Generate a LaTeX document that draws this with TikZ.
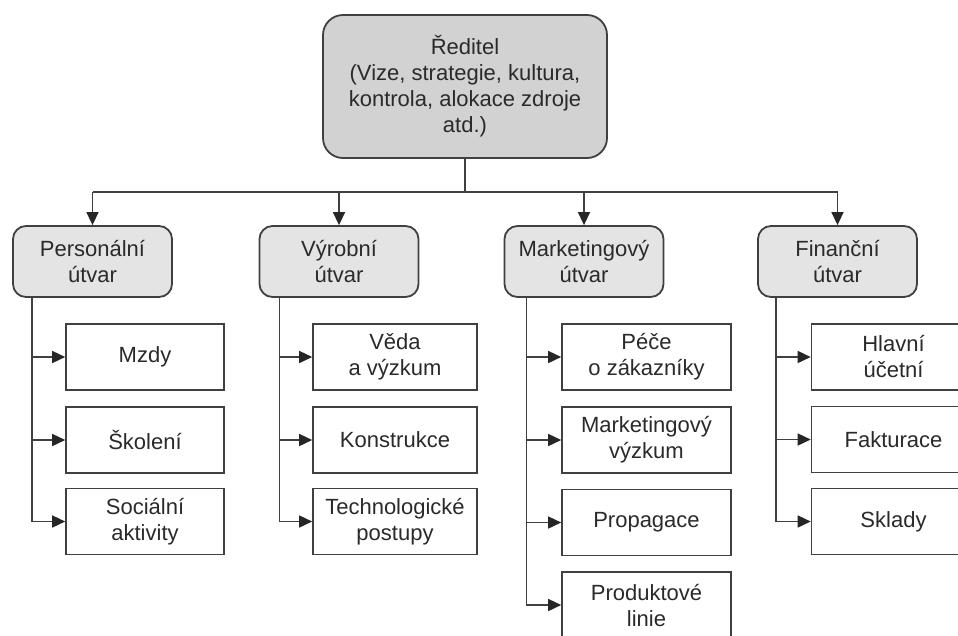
\documentclass[tikz,border=0pt]{standalone}
\usepackage{fontspec}
\setmainfont{Liberation Sans}
\usetikzlibrary{arrows.meta,positioning}
\definecolor{linegray}{HTML}{404040}
\definecolor{textgray}{HTML}{2A2A2A}
\definecolor{topfill}{HTML}{D2D2D2}
\definecolor{deptfill}{HTML}{E4E4E4}

\begin{document}
\begin{tikzpicture}[x=1pt,y=-1pt]
\tikzset{
  topbox/.style={draw=linegray,line width=1.8pt,fill=topfill,rounded corners=20pt,minimum width=284pt,minimum height=143pt,align=center,text=textgray,font=\fontsize{22}{26}\selectfont},
  deptbox/.style={draw=linegray,line width=1.8pt,fill=deptfill,rounded corners=13pt,minimum width=159pt,minimum height=71pt,align=center,text=textgray,inner sep=2pt,font=\fontsize{22}{26}\selectfont},
  childbox/.style={draw=linegray,line width=1.6pt,fill=white,minimum width=164pt,minimum height=66pt,align=center,text=textgray,inner sep=2pt,font=\fontsize{22}{26}\selectfont},
  feed/.style={draw=linegray,line width=1.5pt,-{Triangle[length=13pt,width=12pt,color=black!85]}},
  plain/.style={draw=linegray,line width=1.5pt}
}
\useasboundingbox (0,0) rectangle (958,635);
\node[topbox] (n_Dir) at (465,86.5) {Ředitel\\(Vize, strategie, kultura,\\kontrola, alokace zdroje\\atd.)};
\node[deptbox] (n_Pers) at (92.5,261.5) {Personální\\útvar};
\node[deptbox] (n_Vyr) at (339,261.5) {Výrobní\\útvar};
\node[deptbox] (n_Mkt) at (584,261.5) {Marketingový\\útvar};
\node[deptbox] (n_Fin) at (837.5,261.5) {Finanční\\útvar};
\coordinate (n_Bus) at (465,192);
\node[childbox,minimum width=158pt] (n_P1) at (145,357) {Mzdy};
\node[childbox,minimum width=158pt] (n_P2) at (145,440) {Školení};
\node[childbox,minimum width=158pt] (n_P3) at (145,521.5) {Sociální\\aktivity};
\node[childbox] (n_V1) at (395,357) {Věda\\a výzkum};
\node[childbox] (n_V2) at (395,440) {Konstrukce};
\node[childbox] (n_V3) at (395,521.5) {Technologické\\postupy};
\node[childbox,minimum width=169pt] (n_M1) at (646.5,357) {Péče\\o zákazníky};
\node[childbox,minimum width=169pt] (n_M2) at (646.5,440) {Marketingový\\výzkum};
\node[childbox,minimum width=169pt] (n_M3) at (646.5,522.5) {Propagace};
\node[childbox,minimum width=169pt] (n_M4) at (646.5,605) {Produktové\\linie};
\node[childbox] (n_F1) at (893.5,357) {Hlavní\\účetní};
\node[childbox] (n_F2) at (893.5,439.5) {Fakturace};
\node[childbox] (n_F3) at (893.5,521.5) {Sklady};
\draw[plain] (n_Dir.south) -- (n_Bus);
\draw[plain] (n_Bus -| n_Pers.north) -- (n_Bus -| n_Fin.north);
\foreach \d in {n_Pers,n_Vyr,n_Mkt,n_Fin}
  \draw[feed] (n_Bus -| \d.north) -- (\d.north);
\draw[feed] ([xshift=20pt]n_Pers.south west) |- (n_P3.west);
\draw[feed] ([xshift=21pt]n_Vyr.south west) |- (n_V3.west);
\draw[feed] ([xshift=23pt]n_Mkt.south west) |- (n_M4.west);
\draw[feed] ([xshift=19pt]n_Fin.south west) |- (n_F3.west);
\foreach \c in {n_P1,n_P2}
  \draw[feed] ([xshift=20pt]n_Pers.south west |- \c.west) -- (\c.west);
\foreach \c in {n_V1,n_V2}
  \draw[feed] ([xshift=21pt]n_Vyr.south west |- \c.west) -- (\c.west);
\foreach \c in {n_M1,n_M2,n_M3}
  \draw[feed] ([xshift=23pt]n_Mkt.south west |- \c.west) -- (\c.west);
\foreach \c in {n_F1,n_F2}
  \draw[feed] ([xshift=19pt]n_Fin.south west |- \c.west) -- (\c.west);
\end{tikzpicture}
\end{document}
